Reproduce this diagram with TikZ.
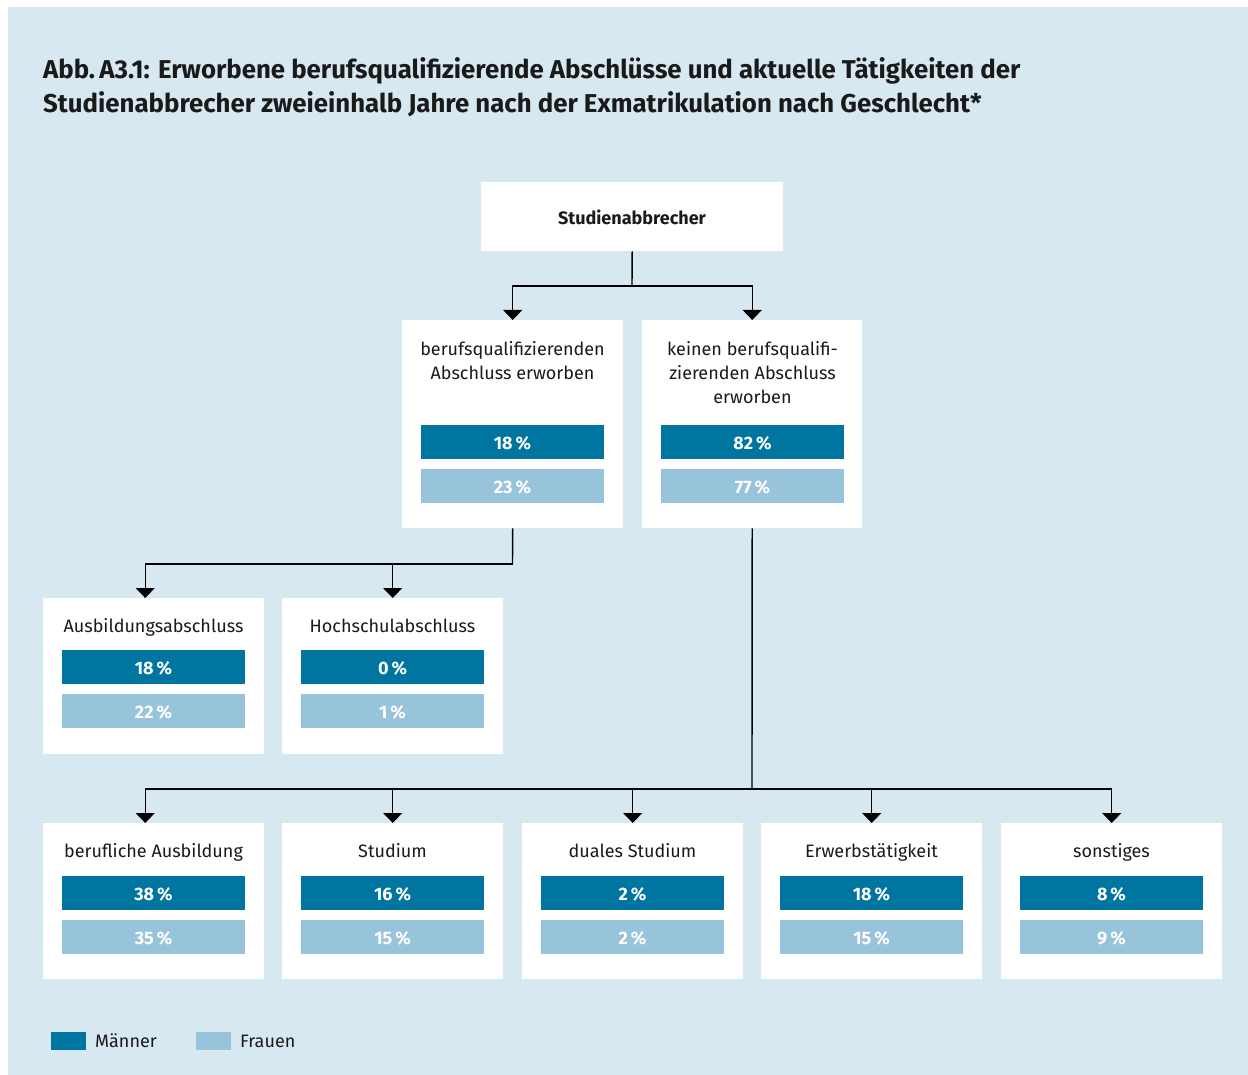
\documentclass[tikz,border=0pt]{standalone}
\usepackage{fontspec}
\setmainfont{Fira Sans}
\usetikzlibrary{arrows.meta}
\definecolor{bg}{HTML}{D7E8F1}
\definecolor{dark}{HTML}{0075A0}
\definecolor{light}{HTML}{98C4DB}
\definecolor{ink}{HTML}{1A1A1A}
\begin{document}
\begin{tikzpicture}[x=1pt,y=-1pt,
  card/.style={fill=white,inner sep=0,anchor=north west},
  lbl/.style={anchor=base,inner sep=0,text=ink,font=\fontsize{18}{24}\selectfont,align=center},
  barM/.style={fill=dark,inner sep=0,minimum width=183pt,minimum height=34pt,text height=15pt,text depth=0pt,text=white,font=\fontsize{18}{20}\selectfont\bfseries},
  barF/.style={barM,fill=light},
  conn/.style={line width=1.4pt,draw=black},
  arr/.style={conn,-{Triangle[width=19pt,length=10pt]}}
]
\useasboundingbox (0,0) rectangle (1248,1075);
\fill[bg] (8,7) rectangle (1248,1075);

% title
\node[anchor=base west,inner sep=0,align=left,font=\fontsize{25.8}{34}\selectfont\bfseries,text=ink] (title) at (43,112.5)
{Abb.\,A3.1: Erworbene berufsqualifizierende Abschlüsse und aktuelle Tätigkeiten der\\Studienabbrecher zweieinhalb Jahre nach der Exmatrikulation nach Geschlecht*};

% top
\node[card,minimum width=302pt,minimum height=69pt] (top) at (481,182) {};
\node[lbl,font=\fontsize{18}{24}\selectfont\bfseries] (toplbl) at (632,225) {Studienabbrecher};

% level 2
\node[card,minimum width=221pt,minimum height=208pt] (ja) at (402,320) {};
\node[lbl] (jalbl) at (512.5,379) {berufsqualifizierenden\\Abschluss erworben};
\node[barM] (jam) at (512.5,442) {18\,\%};
\node[barF] (jaf) at (512.5,486) {23\,\%};

\node[card,minimum width=220pt,minimum height=208pt] (nein) at (642,320) {};
\node[lbl] (neinlbl) at (752.5,403) {keinen berufsqualifi-\\zierenden Abschluss\\erworben};
\node[barM] (neinm) at (752.5,442) {82\,\%};
\node[barF] (neinf) at (752.5,486) {77\,\%};

% level 3
\node[card,minimum width=221pt,minimum height=156pt] (aus) at (43,598) {};
\node[lbl] (auslbl) at (153.5,632.5) {Ausbildungsabschluss};
\node[barM] (ausm) at (153.5,667) {18\,\%};
\node[barF] (ausf) at (153.5,711) {22\,\%};

\node[card,minimum width=221pt,minimum height=156pt] (hoch) at (282,598) {};
\node[lbl] (hochlbl) at (392.5,632.5) {Hochschulabschluss};
\node[barM] (hochm) at (392.5,667) {0\,\%};
\node[barF] (hochf) at (392.5,711) {1\,\%};

% level 4
\foreach \n/\x/\t/\m/\f in {b1/43/berufliche Ausbildung/38/35, b2/282/Studium/16/15, b3/522/duales Studium/2/2, b4/761/Erwerbstätigkeit/18/15, b5/1001/sonstiges/8/9}{
  \node[card,minimum width=221pt,minimum height=156pt] (\n) at (\x,823) {};
  \node[lbl] (\n lbl) at (\x+110.5,857.5) {\t};
  \node[barM] (\n m) at (\x+110.5,893) {\m\,\%};
  \node[barF] (\n f) at (\x+110.5,937) {\f\,\%};
}

% connectors
\coordinate (j1) at (632,286);
\draw[conn] (top.south) -- (j1);
\draw[arr] (j1) -| (ja.north);
\draw[arr] (j1) -| (nein.north);

\coordinate (j2) at (512.5,564);
\draw[conn] (ja.south) -- (j2);
\draw[arr] (j2) -| ([xshift=-8.5pt]aus.north);
\draw[arr] (j2) -| (hoch.north);

\coordinate (j3) at (752,789);
\draw[conn] (nein.south) -- (j3);
\draw[arr] (j3) -| ([xshift=-8.5pt]b1.north);
\draw[arr] (j3) -| (b2.north);
\draw[arr] (j3) -| (b3.north);
\draw[arr] (j3) -| (b4.north);
\draw[arr] (j3) -| (b5.north);

% legend
\node[fill=dark,inner sep=0,minimum width=35pt,minimum height=18pt,anchor=north west] (legm) at (51,1032) {};
\node[anchor=base west,inner sep=0,text=ink,font=\fontsize{18}{24}\selectfont] (legmt) at (95,1047) {Männer};
\node[fill=light,inner sep=0,minimum width=35pt,minimum height=18pt,anchor=north west] (legf) at (196,1032) {};
\node[anchor=base west,inner sep=0,text=ink,font=\fontsize{18}{24}\selectfont] (legft) at (240,1047) {Frauen};
\end{tikzpicture}
\end{document}
